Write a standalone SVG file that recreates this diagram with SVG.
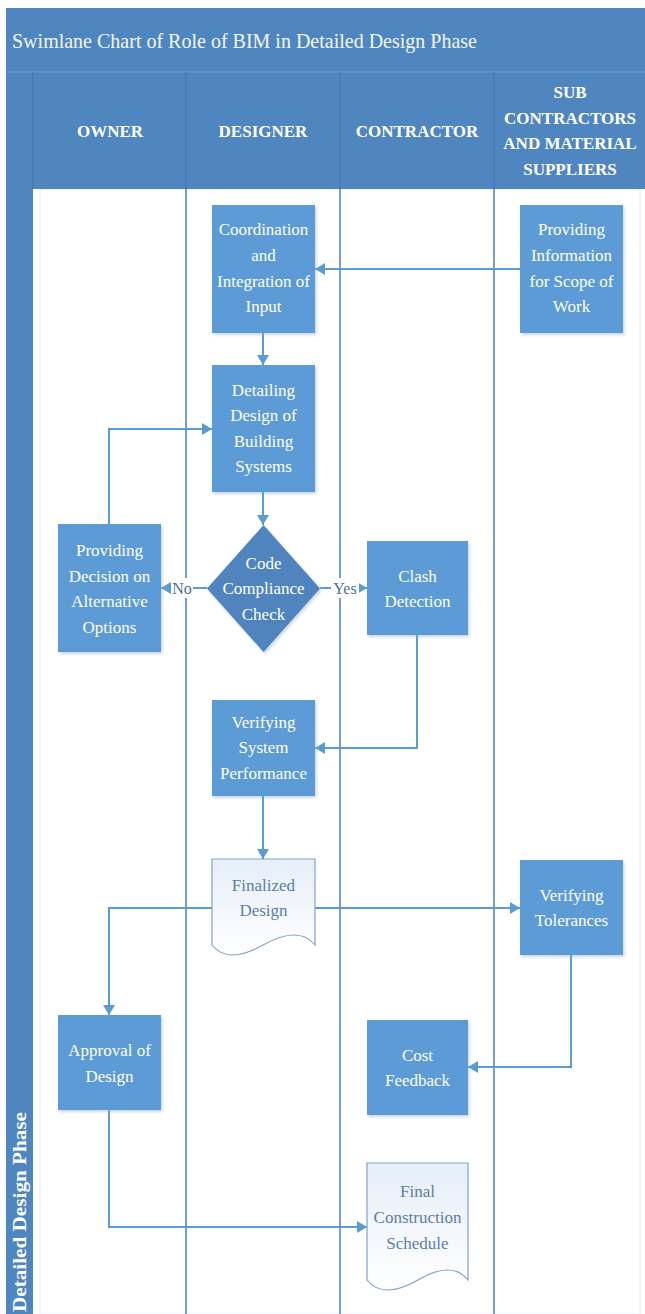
<svg xmlns="http://www.w3.org/2000/svg" width="645" height="1314" viewBox="0 0 645 1314">
<defs>
<style>
.band{fill:#4f86c0}
.hdr{font-family:"Liberation Serif","Times New Roman",Tinos,"DejaVu Serif",serif;font-weight:bold;font-size:17px;fill:#ffffff;text-anchor:middle}
.box{fill:#5b9bd5}
.dia{fill:#4f84bf}
.t{font-family:"Liberation Serif","Times New Roman",Tinos,"DejaVu Serif",serif;font-size:17px;fill:#ffffff;text-anchor:middle}
.dt{font-family:"Liberation Serif","Times New Roman",Tinos,"DejaVu Serif",serif;font-size:17px;fill:#5b7fa6;text-anchor:middle}
.doc{fill:url(#docg);stroke:#7fa3cc;stroke-width:1.2}
.lane{stroke:#4a7ebb;stroke-width:1.5;fill:none}
.con{stroke:#5b9bd5;stroke-width:2;fill:none;marker-end:url(#ah)}
.lbl{font-family:"Liberation Serif","Times New Roman",Tinos,"DejaVu Serif",serif;font-size:16px;fill:#4f6f96;text-anchor:middle}
.ttl{font-family:"Liberation Serif","Times New Roman",Tinos,"DejaVu Serif",serif;font-size:22px;fill:#f2f6fa}
.vt{font-family:"Liberation Serif","Times New Roman",Tinos,"DejaVu Serif",serif;font-weight:bold;font-size:18px;fill:#ffffff}
</style>
<linearGradient id="docg" x1="0" y1="0" x2="0" y2="1">
<stop offset="0" stop-color="#e6eef8"/>
<stop offset="1" stop-color="#ffffff"/>
</linearGradient>
<filter id="sh" x="-10%" y="-10%" width="130%" height="130%">
<feDropShadow dx="1.5" dy="2" stdDeviation="1.5" flood-color="#8aa4c2" flood-opacity="0.45"/>
</filter>
<marker id="ah" markerUnits="userSpaceOnUse" markerWidth="11" markerHeight="12" refX="10" refY="6" orient="auto">
<path d="M0,0 L10,6 L0,12 z" fill="#5b9bd5"/>
</marker>
</defs>
<rect width="645" height="1314" fill="#ffffff"/>
<g id="frame">
<rect x="40" y="189" width="600" height="1125" fill="none" stroke="#e3e9f0" stroke-width="1"/>
<rect class="band" x="6" y="8" width="639" height="64"/>
<text class="ttl" x="12" y="48" textLength="465" lengthAdjust="spacingAndGlyphs">Swimlane Chart of Role of BIM in Detailed Design Phase</text>
<rect class="band" x="6" y="72" width="639" height="117"/>
<rect class="band" x="6" y="72" width="27" height="1242"/>
<line x1="6" y1="72" x2="645" y2="72" stroke="#6a9ad0" stroke-width="1"/>
<g stroke="#3f73ad" stroke-width="1">
<line x1="33" y1="72" x2="33" y2="189"/>
<line x1="186" y1="72" x2="186" y2="189"/>
<line x1="340" y1="72" x2="340" y2="189"/>
<line x1="494" y1="72" x2="494" y2="189"/>
</g>
<text class="hdr" x="110" y="137">OWNER</text>
<text class="hdr" x="263" y="137">DESIGNER</text>
<text class="hdr" x="417" y="137">CONTRACTOR</text>
<text class="hdr" x="570" y="98">SUB</text>
<text class="hdr" x="570" y="123.5">CONTRACTORS</text>
<text class="hdr" x="570" y="149">AND MATERIAL</text>
<text class="hdr" x="570" y="174.5">SUPPLIERS</text>
<text class="vt" transform="translate(26,1312) rotate(-90)" textLength="200" lengthAdjust="spacingAndGlyphs">Detailed Design Phase</text>
<line class="lane" x1="186" y1="189" x2="186" y2="1314"/>
<line class="lane" x1="340" y1="189" x2="340" y2="1314"/>
<line class="lane" x1="494" y1="189" x2="494" y2="1314"/>
</g>
<g id="connectors">
<path class="con" d="M520,269 H315"/>
<path class="con" d="M263,333 V365"/>
<path class="con" d="M109,524 V429 H212"/>
<path class="con" d="M263,492 V525"/>
<path class="con" d="M207,588 H161"/>
<path class="con" d="M320,588 H367"/>
<path class="con" d="M417,635 V748 H315"/>
<path class="con" d="M263,796 V859"/>
<path class="con" d="M315,908 H520"/>
<path class="con" d="M212,908 H109 V1015"/>
<path class="con" d="M571,955 V1067 H468"/>
<path class="con" d="M109,1110 V1227 H367"/>
<rect x="171" y="578" width="22" height="20" fill="#ffffff"/>
<text class="lbl" x="182" y="594">No</text>
<rect x="331" y="578" width="28" height="20" fill="#ffffff"/>
<text class="lbl" x="345" y="594">Yes</text>
</g>
<g id="n-coordination">
<rect class="box" x="212" y="205" width="103" height="128" filter="url(#sh)"/>
<text class="t" x="263.5" y="235">Coordination</text>
<text class="t" x="263.5" y="261">and</text>
<text class="t" x="263.5" y="287">Integration of</text>
<text class="t" x="263.5" y="312">Input</text>
</g>
<g id="n-providing-info">
<rect class="box" x="520" y="205" width="103" height="128" filter="url(#sh)"/>
<text class="t" x="571.5" y="235">Providing</text>
<text class="t" x="571.5" y="261">Information</text>
<text class="t" x="571.5" y="287">for Scope of</text>
<text class="t" x="571.5" y="312">Work</text>
</g>
<g id="n-detailing">
<rect class="box" x="212" y="365" width="103" height="127" filter="url(#sh)"/>
<text class="t" x="263.5" y="396">Detailing</text>
<text class="t" x="263.5" y="421">Design of</text>
<text class="t" x="263.5" y="447">Building</text>
<text class="t" x="263.5" y="472">Systems</text>
</g>
<g id="n-code-check">
<polygon class="dia" points="263.5,525 320,588.5 263.5,652 207,588.5" filter="url(#sh)"/>
<text class="t" x="263.5" y="569">Code</text>
<text class="t" x="263.5" y="594">Compliance</text>
<text class="t" x="263.5" y="620">Check</text>
</g>
<g id="n-decision">
<rect class="box" x="58" y="524" width="103" height="128" filter="url(#sh)"/>
<text class="t" x="109.5" y="556">Providing</text>
<text class="t" x="109.5" y="582">Decision on</text>
<text class="t" x="109.5" y="607">Alternative</text>
<text class="t" x="109.5" y="633">Options</text>
</g>
<g id="n-clash">
<rect class="box" x="367" y="541" width="101" height="94" filter="url(#sh)"/>
<text class="t" x="417.5" y="582">Clash</text>
<text class="t" x="417.5" y="607">Detection</text>
</g>
<g id="n-verify-perf">
<rect class="box" x="212" y="700" width="103" height="96" filter="url(#sh)"/>
<text class="t" x="263.5" y="728">Verifying</text>
<text class="t" x="263.5" y="753">System</text>
<text class="t" x="263.5" y="779">Performance</text>
</g>
<g id="n-finalized">
<path class="doc" d="M212,859 H315 V945 Q299,925 263,945 Q228,965 212,945 Z"/>
<text class="dt" x="263.5" y="891">Finalized</text>
<text class="dt" x="263.5" y="916">Design</text>
</g>
<g id="n-tolerances">
<rect class="box" x="520" y="860" width="103" height="95" filter="url(#sh)"/>
<text class="t" x="571.5" y="901">Verifying</text>
<text class="t" x="571.5" y="926">Tolerances</text>
</g>
<g id="n-approval">
<rect class="box" x="58" y="1015" width="103" height="95" filter="url(#sh)"/>
<text class="t" x="109.5" y="1056">Approval of</text>
<text class="t" x="109.5" y="1082">Design</text>
</g>
<g id="n-cost">
<rect class="box" x="367" y="1020" width="101" height="95" filter="url(#sh)"/>
<text class="t" x="417.5" y="1061">Cost</text>
<text class="t" x="417.5" y="1086">Feedback</text>
</g>
<g id="n-schedule">
<path class="doc" d="M367,1163 H468 V1280 Q452,1260 418,1280 Q383,1300 367,1280 Z"/>
<text class="dt" x="417.5" y="1197">Final</text>
<text class="dt" x="417.5" y="1223">Construction</text>
<text class="dt" x="417.5" y="1249">Schedule</text>
</g>
</svg>
